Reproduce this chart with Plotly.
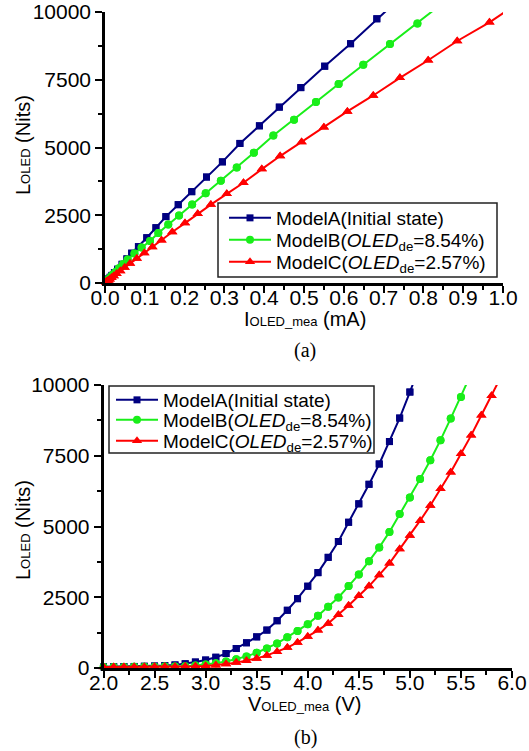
import plotly.graph_objects as go

W, H = 529, 751

# ---------------- data ----------------
series_names = [
    "ModelA(Initial state)",
    "ModelB(<i>OLED</i><sub>de</sub>=8.54%)",
    "ModelC(<i>OLED</i><sub>de</sub>=2.57%)",
]

V_A = [2.0, 2.1, 2.2, 2.3, 2.4, 2.5, 2.6, 2.7, 2.8, 2.9,
       3.0, 3.1, 3.2, 3.3, 3.4, 3.5, 3.6, 3.7, 3.8, 3.9,
       4.0, 4.1, 4.2, 4.3, 4.4, 4.5, 4.6, 4.7, 4.8, 4.9,
       5.0, 5.1]
L_A = [40, 45, 50, 55, 62, 70, 85, 110, 150, 210,
       280, 380, 510, 690, 890, 1100, 1340, 1670, 2040, 2450,
       2890, 3370, 3910, 4470, 5150, 5800, 6490, 7210, 8000, 8830,
       9750, 10700]
I_A = [0.0025, 0.0028, 0.0031, 0.0034, 0.0039, 0.0044, 0.0053, 0.0069, 0.0094, 0.013,
       0.0175, 0.0237, 0.032, 0.043, 0.055, 0.067, 0.084, 0.105, 0.128, 0.153,
       0.184, 0.218, 0.255, 0.295, 0.339, 0.388, 0.438, 0.492, 0.552, 0.617,
       0.683, 0.755]

V_B = [2.0, 2.1, 2.2, 2.3, 2.4, 2.5, 2.6, 2.7, 2.8, 2.9,
       3.0, 3.1, 3.2, 3.3, 3.4, 3.5, 3.6, 3.7, 3.8, 3.9,
       4.0, 4.1, 4.2, 4.3, 4.4, 4.5, 4.6, 4.7, 4.8, 4.9,
       5.0, 5.1, 5.2, 5.3, 5.4, 5.5, 5.6]
L_B = [35, 37, 39, 41, 43, 46, 50, 56, 66, 85,
       120, 170, 230, 310, 410, 540, 690, 868, 1088, 1307,
       1550, 1843, 2161, 2491, 2894, 3308, 3773, 4260, 4809, 5440,
       6025, 6678, 7343, 8052, 8820, 9575, 10400]
I_B = [0.0023, 0.0024, 0.0025, 0.0027, 0.0028, 0.003, 0.0033, 0.0037, 0.0043, 0.0055,
       0.0078, 0.011, 0.015, 0.020, 0.027, 0.035, 0.045, 0.057, 0.074, 0.092,
       0.113, 0.134, 0.159, 0.186, 0.219, 0.253, 0.291, 0.331, 0.374, 0.423,
       0.475, 0.530, 0.587, 0.649, 0.716, 0.785, 0.855]

V_C = [2.0, 2.1, 2.2, 2.3, 2.4, 2.5, 2.6, 2.7, 2.8, 2.9,
       3.0, 3.1, 3.2, 3.3, 3.4, 3.5, 3.6, 3.7, 3.8, 3.9,
       4.0, 4.1, 4.2, 4.3, 4.4, 4.5, 4.6, 4.7, 4.8, 4.9,
       5.0, 5.1, 5.2, 5.3, 5.4, 5.5, 5.6, 5.7, 5.8, 5.9]
L_C = [35, 36, 37, 38, 39, 40, 42, 45, 50, 58,
       75, 100, 140, 190, 255, 340, 445, 570, 722, 905,
       1110, 1330, 1575, 1880, 2210, 2553, 2894, 3290, 3700, 4203,
       4685, 5205, 5745, 6330, 6920, 7570, 8220, 8930, 9620, 10350]
I_C = [0.0030, 0.0031, 0.0031, 0.0032, 0.0033, 0.0034, 0.0036, 0.0039, 0.0043, 0.005,
       0.0064, 0.0086, 0.012, 0.0163, 0.022, 0.029, 0.0385, 0.0495, 0.063, 0.080,
       0.099, 0.119, 0.142, 0.169, 0.201, 0.233, 0.266, 0.306, 0.348, 0.394,
       0.440, 0.494, 0.550, 0.609, 0.674, 0.741, 0.812, 0.885, 0.966, 1.04]

x_ticks_top = [0.0, 0.1, 0.2, 0.3, 0.4, 0.5, 0.6, 0.7, 0.8, 0.9, 1.0]
x_ticks_bot = [2.0, 2.5, 3.0, 3.5, 4.0, 4.5, 5.0, 5.5, 6.0]
y_ticks = [0, 2500, 5000, 7500, 10000]

# ---------------- styles ----------------
colors = ["#000080", "#19ee19", "#ff0000"]
symbols = ["square", "circle", "triangle-up"]
msizes = [7, 8, 9]
FONT = "Liberation Sans, Arial, sans-serif"

def px(x):
    return x / W

def py(y):
    return 1 - y / H

fig = go.Figure()

def add_series(xs, ys, i, xa, ya, legend, ymax=10000):
    fig.add_trace(go.Scatter(
        x=xs, y=ys, mode="lines+markers", name=series_names[i],
        line=dict(color=colors[i], width=2),
        marker=dict(symbol=symbols[i], size=msizes[i], color=colors[i]),
        xaxis=xa, yaxis=ya, legend=legend, cliponaxis=True,
    ))
    kx = [x for x, y in zip(xs, ys) if y <= ymax]
    ky = [y for y in ys if y <= ymax]
    fig.add_trace(go.Scatter(
        x=kx, y=ky, mode="markers", showlegend=False,
        marker=dict(symbol=symbols[i], size=msizes[i], color=colors[i]),
        xaxis=xa, yaxis=ya, cliponaxis=False, hoverinfo="skip",
    ))

top_legends = ["legend", "legend2", "legend3"]
bot_legends = ["legend4", "legend5", "legend6"]
for i, (xs, ys) in enumerate([(I_A, L_A), (I_B, L_B), (I_C, L_C)]):
    add_series(xs, ys, i, "x", "y", top_legends[i])
for i, (xs, ys) in enumerate([(V_A, L_A), (V_B, L_B), (V_C, L_C)]):
    add_series(xs, ys, i, "x2", "y2", bot_legends[i])

axis_common = dict(
    showgrid=False, zeroline=False, showline=True, linecolor="black",
    linewidth=2.5, ticks="outside", ticklen=7, tickwidth=2, tickcolor="black",
    tickfont=dict(family=FONT, size=21, color="black"),
    mirror=False, automargin=False, ticklabeloverflow="allow",
)

def minor(d, t0):
    return dict(dtick=d, tick0=t0, ticks="outside", ticklen=4,
                tickwidth=2, tickcolor="black", showgrid=False)

leg_common = dict(xanchor="left", yanchor="middle", bgcolor="rgba(0,0,0,0)",
                  borderwidth=0, font=dict(family=FONT, size=19, color="black"),
                  itemwidth=42)

layout_legends = {}
for name, yy in zip(top_legends, [218, 240, 262]):
    layout_legends[name] = dict(x=px(224), y=py(yy), **leg_common)
for name, yy in zip(bot_legends, [400, 420, 441]):
    layout_legends[name] = dict(x=px(111), y=py(yy), **leg_common)

fig.update_layout(
    width=W, height=H,
    margin=dict(l=0, r=0, t=0, b=0),
    paper_bgcolor="white", plot_bgcolor="white",
    font=dict(family=FONT, color="black"),
    xaxis=dict(domain=[px(105), px(503)], anchor="y", range=[0, 1],
               tickvals=x_ticks_top, tickformat=".1f", ticklabelstandoff=-13,
               minor=minor(0.05, 0), **axis_common),
    yaxis=dict(domain=[py(283), py(12)], anchor="x", range=[0, 10000],
               tickvals=y_ticks, tickformat="d",
               minor=minor(1250, 0), **axis_common),
    xaxis2=dict(domain=[px(103.5), px(512)], anchor="y2", range=[2, 6],
                tickvals=x_ticks_bot, tickformat=".1f", ticklabelstandoff=-13,
                minor=minor(0.25, 2), **axis_common),
    yaxis2=dict(domain=[py(668), py(385)], anchor="x2", range=[0, 10000],
                tickvals=y_ticks, tickformat="d",
                minor=minor(1250, 0), **axis_common),
    showlegend=True,
    **layout_legends,
)

# legend frames
for (x0, x1, y0, y1) in [(218, 497, 203, 277), (109, 374, 386, 453)]:
    fig.add_shape(type="rect", xref="paper", yref="paper",
                  x0=px(x0), x1=px(x1), y0=py(y1), y1=py(y0),
                  line=dict(color="#222", width=1.5), fillcolor="white",
                  layer="above")

SM = "<span style='font-size:13px'>"
annots = [
    dict(text="L" + SM + "OLED</span> (Nits)", x=px(23), y=py(145), textangle=-90),
    dict(text="I" + SM + "OLED_mea</span> (mA)", x=px(305), y=py(319), textangle=0),
    dict(text="L" + SM + "OLED</span> (Nits)", x=px(23), y=py(530), textangle=-90),
    dict(text="V" + SM + "OLED_mea</span> (V)", x=px(304), y=py(704), textangle=0),
]
for a in annots:
    fig.add_annotation(xref="paper", yref="paper", showarrow=False,
                       xanchor="center", yanchor="middle",
                       font=dict(family=FONT, size=20, color="black"), **a)
for t, yy in [("(a)", 350), ("(b)", 737)]:
    fig.add_annotation(text=t, xref="paper", yref="paper", x=px(305), y=py(yy),
                       showarrow=False, xanchor="center", yanchor="middle",
                       font=dict(family="Liberation Serif, Times New Roman, serif",
                                 size=20, color="black"))

fig.write_html("out.html")
